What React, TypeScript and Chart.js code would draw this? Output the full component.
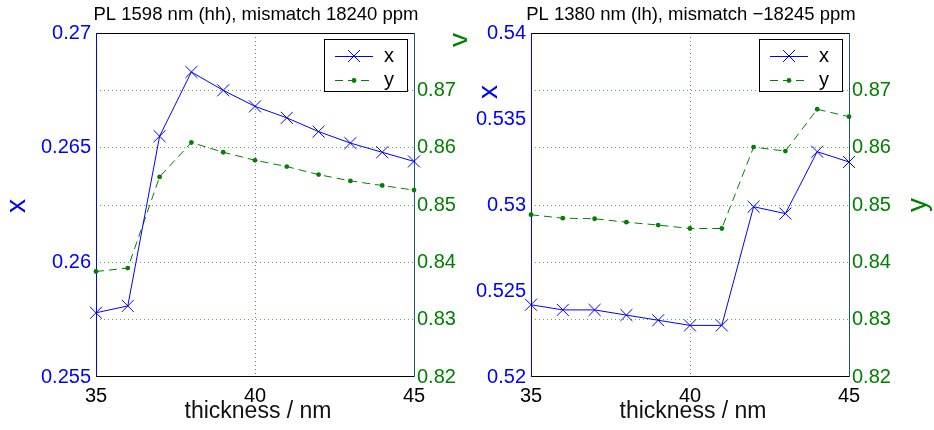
import React, { useEffect, useRef } from "react";
import { Chart, registerables } from "chart.js";

Chart.register(...registerables);

// ---------- data ----------
const thickness = [35, 36, 37, 38, 39, 40, 41, 42, 43, 44, 45];

const hhX = [0.2578, 0.2581, 0.2655, 0.2683, 0.2675, 0.2668, 0.2663, 0.2657, 0.2652, 0.2648, 0.2644];
const hhY = [0.8384, 0.839, 0.8549, 0.8609, 0.8592, 0.8578, 0.8567, 0.8553, 0.8542, 0.8534, 0.8526];

const lhX = [0.5242, 0.5239, 0.5239, 0.5236, 0.5233, 0.523, 0.523, 0.5299, 0.5295, 0.5331, 0.5325];
const lhY = [0.8483, 0.8477, 0.8476, 0.847, 0.8465, 0.8459, 0.8459, 0.8601, 0.8594, 0.8667, 0.8654];

const thicknessTicks = [35, 40, 45];
const hhXTicks = [0.255, 0.26, 0.265, 0.27];
const lhXTicks = [0.52, 0.525, 0.53, 0.535, 0.54];
const yTicks = [0.82, 0.83, 0.84, 0.85, 0.86, 0.87];

const panelTitles = ["PL 1598 nm (hh), mismatch 18240 ppm", "PL 1380 nm (lh), mismatch \u221218245 ppm"];
const seriesNames = ["x", "y"];
const xAxisTitle = "thickness / nm";

// ---------- styles ----------
const FONT = "'Liberation Sans', Arial, Helvetica, sans-serif";
const BLUE = "#0000ff";
const GREEN = "#008000";
const RIGHT_AXIS = "#1d5a6c";

type PanelCfg = {
  left: number;
  title: string;
  xs: number[];
  ys: number[];
  xMin: number;
  xMax: number;
  xTicks: number[];
  leftW: number;
  rightW: number;
  xLabelPos: [number, number];
  yLabelPos: [number, number];
};

const panels: PanelCfg[] = [
  {
    left: 0,
    title: panelTitles[0],
    xs: hhX,
    ys: hhY,
    xMin: 0.255,
    xMax: 0.27,
    xTicks: hhXTicks,
    leftW: 96,
    rightW: 53,
    xLabelPos: [17, 206],
    yLabelPos: [460, 40],
  },
  {
    left: 467,
    title: panelTitles[1],
    xs: lhX,
    ys: lhY,
    xMin: 0.52,
    xMax: 0.54,
    xTicks: lhXTicks,
    leftW: 64,
    rightW: 85,
    xLabelPos: [22, 92],
    yLabelPos: [451, 205],
  },
];

function fmt(v: number, d: number) {
  return String(Number(v.toFixed(d)));
}

function makeDecor(cfg: PanelCfg) {
  return {
    id: "decor",
    beforeDatasetsDraw(chart: any) {
      const { ctx, chartArea: a } = chart;
      ctx.save();
      ctx.lineWidth = 1;
      ctx.setLineDash([]);
      ctx.strokeStyle = "#000";
      ctx.beginPath();
      ctx.moveTo(a.left, a.top + 0.5);
      ctx.lineTo(a.right, a.top + 0.5);
      ctx.moveTo(a.left, a.bottom - 0.5);
      ctx.lineTo(a.right, a.bottom - 0.5);
      ctx.stroke();
      ctx.strokeStyle = BLUE;
      ctx.beginPath();
      ctx.moveTo(a.left + 0.5, a.top);
      ctx.lineTo(a.left + 0.5, a.bottom);
      ctx.stroke();
      ctx.strokeStyle = RIGHT_AXIS;
      ctx.beginPath();
      ctx.moveTo(a.right + 0.5, a.top);
      ctx.lineTo(a.right + 0.5, a.bottom);
      ctx.stroke();
      ctx.restore();
    },
    afterDraw(chart: any) {
      const { ctx, chartArea: a } = chart;
      ctx.save();
      ctx.fillStyle = "#000";
      ctx.font = `18.5px ${FONT}`;
      ctx.textAlign = "center";
      ctx.textBaseline = "middle";
      ctx.fillText(cfg.title, (a.left + a.right) / 2 + 1, 15);
      ctx.font = `23px ${FONT}`;
      ctx.fillStyle = "#111";
      ctx.fillText(xAxisTitle, (a.left + a.right) / 2 + 3, 412);
      const rot = (txt: string, x: number, y: number, color: string) => {
        ctx.save();
        ctx.translate(x, y);
        ctx.rotate(-Math.PI / 2);
        ctx.fillStyle = color;
        ctx.font = `28px ${FONT}`;
        ctx.textAlign = "center";
        ctx.textBaseline = "middle";
        ctx.fillText(txt, 0, 0);
        ctx.restore();
      };
      rot(seriesNames[0], cfg.xLabelPos[0], cfg.xLabelPos[1], BLUE);
      rot(seriesNames[1], cfg.yLabelPos[0], cfg.yLabelPos[1], GREEN);

      const bw = 83;
      const bh = 52;
      const bx = a.right - 7 - bw;
      const by = a.top + 6;
      ctx.fillStyle = "#fff";
      ctx.fillRect(bx, by, bw, bh);
      ctx.strokeStyle = "#000";
      ctx.lineWidth = 1;
      ctx.setLineDash([]);
      ctx.strokeRect(bx + 0.5, by + 0.5, bw, bh);
      chart.data.datasets.forEach((ds: any, i: number) => {
        const ly = by + 17 + i * 24;
        const cx = bx + 30;
        ctx.save();
        ctx.strokeStyle = ds.borderColor;
        ctx.lineWidth = 1;
        ctx.setLineDash(ds.borderDash || []);
        ctx.beginPath();
        ctx.moveTo(bx + 11, ly + 0.5);
        ctx.lineTo(bx + 49, ly + 0.5);
        ctx.stroke();
        ctx.setLineDash([]);
        if (ds.pointStyle === "crossRot") {
          const r = 6;
          ctx.beginPath();
          ctx.moveTo(cx - r, ly - r);
          ctx.lineTo(cx + r, ly + r);
          ctx.moveTo(cx - r, ly + r);
          ctx.lineTo(cx + r, ly - r);
          ctx.stroke();
        } else {
          ctx.fillStyle = ds.pointBackgroundColor;
          ctx.beginPath();
          ctx.arc(cx, ly + 0.5, 2.4, 0, Math.PI * 2);
          ctx.fill();
        }
        ctx.restore();
        ctx.fillStyle = "#000";
        ctx.font = `20px ${FONT}`;
        ctx.textAlign = "left";
        ctx.textBaseline = "middle";
        ctx.fillText(ds.label, bx + 60, ly);
      });
      ctx.restore();
    },
  };
}

function Panel({ cfg }: { cfg: PanelCfg }) {
  const ref = useRef<HTMLCanvasElement | null>(null);
  useEffect(() => {
    if (!ref.current) return;
    const chart = new Chart(ref.current, {
      type: "line",
      data: {
        datasets: [
          {
            label: seriesNames[0],
            data: thickness.map((t, i) => ({ x: t, y: cfg.xs[i] })),
            yAxisID: "yL",
            borderColor: BLUE,
            backgroundColor: BLUE,
            borderWidth: 1,
            pointStyle: "crossRot",
            pointRadius: 8.5,
            pointBorderColor: BLUE,
            pointBorderWidth: 1,
            pointBackgroundColor: BLUE,
            tension: 0,
            clip: false as any,
          },
          {
            label: seriesNames[1],
            data: thickness.map((t, i) => ({ x: t, y: cfg.ys[i] })),
            yAxisID: "yR",
            borderColor: GREEN,
            backgroundColor: GREEN,
            borderWidth: 1,
            borderDash: [8, 5],
            pointStyle: "circle",
            pointRadius: 2.4,
            pointBorderWidth: 0,
            pointBackgroundColor: GREEN,
            tension: 0,
            clip: false as any,
          },
        ],
      },
      options: {
        responsive: false,
        animation: false,
        devicePixelRatio: 1,
        layout: { padding: { top: 33, left: 0, right: 0, bottom: 0 } },
        plugins: {
          legend: { display: false },
          title: { display: false },
          tooltip: { enabled: false },
        },
        scales: {
          x: {
            type: "linear",
            min: 35,
            max: 45,
            afterBuildTicks: (s: any) => {
              s.ticks = thicknessTicks.map((v) => ({ value: v }));
            },
            afterFit: (s: any) => {
              s.height = 53;
            },
            ticks: {
              color: "#000",
              padding: 7,
              font: { family: FONT, size: 20 },
              callback: (v: any) => String(v),
            },
            grid: {
              drawTicks: false,
              lineWidth: 1,
              color: (c: any) => (c.tick && c.tick.value === 40 ? "rgba(110,110,110,0.9)" : "rgba(0,0,0,0)"),
            },
            border: { display: false, dash: [1, 3] },
          },
          yL: {
            type: "linear",
            position: "left",
            min: cfg.xMin,
            max: cfg.xMax,
            afterBuildTicks: (s: any) => {
              s.ticks = cfg.xTicks.map((v) => ({ value: v }));
            },
            afterFit: (s: any) => {
              s.width = cfg.leftW;
            },
            ticks: {
              color: BLUE,
              padding: 5,
              font: { family: FONT, size: 20 },
              callback: (v: any) => fmt(Number(v), 3),
            },
            grid: { drawOnChartArea: false, drawTicks: false },
            border: { display: false },
          },
          yR: {
            type: "linear",
            position: "right",
            min: 0.82,
            max: 0.88,
            afterBuildTicks: (s: any) => {
              s.ticks = yTicks.map((v) => ({ value: v }));
            },
            afterFit: (s: any) => {
              s.width = cfg.rightW;
            },
            ticks: {
              color: GREEN,
              padding: 3,
              font: { family: FONT, size: 20 },
              callback: (v: any) => fmt(Number(v), 2),
            },
            grid: {
              drawOnChartArea: true,
              drawTicks: false,
              lineWidth: 1,
              color: (c: any) => {
                const v = c.tick ? c.tick.value : 0;
                return v > 0.825 && v < 0.875 ? "rgba(0,150,0,0.7)" : "rgba(0,0,0,0)";
              },
            },
            border: { display: false, dash: [1, 3] },
          },
        },
      } as any,
      plugins: [makeDecor(cfg)],
    });
    return () => chart.destroy();
  }, []);
  return (
    <canvas
      ref={ref}
      width={467}
      height={430}
      style={{ position: "absolute", left: cfg.left, top: 0, width: 467, height: 430 }}
    />
  );
}

export default function App() {
  return (
    <div style={{ position: "fixed", left: 0, top: 0, width: 934, height: 430, background: "#fff", overflow: "hidden" }}>
      {panels.map((p, i) => (
        <Panel key={i} cfg={p} />
      ))}
    </div>
  );
}
